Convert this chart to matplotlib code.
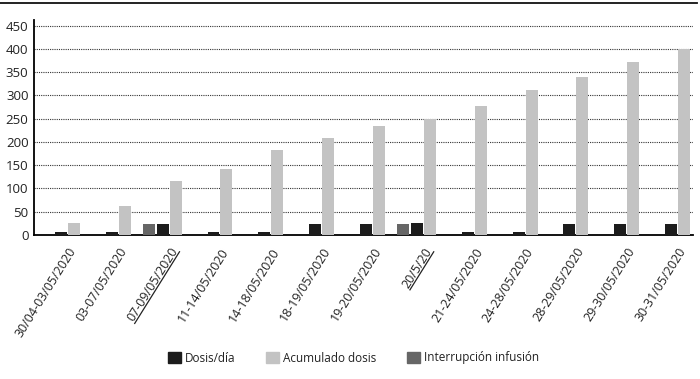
import numpy as np
import matplotlib
matplotlib.use("Agg")
import matplotlib.pyplot as plt
from matplotlib.lines import Line2D
from matplotlib.patches import Patch

plt.rcParams["font.family"] = ["Open Sans", "DejaVu Sans"]

labels = ["30/04-03/05/2020", "03-07/05/2020", "07-09/05/2020", "11-14/05/2020",
          "14-18/05/2020", "18-19/05/2020", "19-20/05/2020", "20/5/20",
          "21-24/05/2020", "24-28/05/2020", "28-29/05/2020", "29-30/05/2020",
          "30-31/05/2020"]
dosis = [7, 7, 23, 7, 7, 24, 24, 26, 6, 6, 24, 24, 24]
acumulado = [25, 62, 116, 142, 182, 208, 234, 249, 277, 312, 340, 371, 400]
interrupcion = [0, 0, 23, 0, 0, 0, 0, 24, 0, 0, 0, 0, 0]
underlined = ["07-09/05/2020", "20/5/20"]

C_DOSIS = "#1c1c1c"
C_ACUM = "#c3c3c3"
C_INT = "#666666"
TXT = "#222222"
ROT = 58

x = np.arange(len(labels))
w = 0.235

fig = plt.figure(figsize=(7, 3.79), dpi=100)
ax = fig.add_axes([34 / 700, 1 - 235 / 379, (693 - 34) / 700, (235 - 20) / 379])

ax.bar(x - 0.27, interrupcion, w, color=C_INT, zorder=3)
ax.bar(x, dosis, w, color=C_DOSIS, zorder=3)
ax.bar(x + 0.255, acumulado, w, color=C_ACUM, zorder=3)

ax.set_xlim(-0.53, 12.43)
ax.set_ylim(0, 462)
ax.set_yticks(np.arange(0, 451, 50))
ax.yaxis.grid(True, color="#333333", linestyle=(0, (1, 1)), linewidth=0.8)
ax.set_axisbelow(True)
for s in ("top", "right"):
    ax.spines[s].set_visible(False)
ax.spines["left"].set_linewidth(1.3)
ax.spines["bottom"].set_linewidth(1.3)
ax.tick_params(axis="y", length=0, pad=4, labelsize=9.5, labelcolor=TXT)
ax.tick_params(axis="x", length=0, pad=10, labelsize=9, labelcolor=TXT)

ax.set_xticks(x + 0.24)
ax.set_xticklabels(labels, rotation=ROT, ha="right", va="center",
                   rotation_mode="anchor")

# regla superior
fig.add_artist(Line2D([0, 0.995], [1 - 3 / 379] * 2, color="#111111",
                      linewidth=1.3, transform=fig.transFigure))

handles = [Patch(color=C_DOSIS), Patch(color=C_ACUM), Patch(color=C_INT)]
fig.legend(handles, ["Dosis/día", "Acumulado dosis", "Interrupción infusión"],
           loc="center", bbox_to_anchor=(0.505, 1 - 358 / 379), ncol=3,
           frameon=False, fontsize=8.5, handlelength=1.1, handleheight=1.1,
           handletextpad=0.35, columnspacing=2.6, labelcolor=TXT)

# subrayado de las etiquetas marcadas
fig.canvas.draw()
r = fig.canvas.get_renderer()
a = np.deg2rad(ROT)
c, s = np.cos(a), np.sin(a)
inv = fig.transFigure.inverted()
for lab in ax.get_xticklabels():
    if lab.get_text() not in underlined:
        continue
    tmp = fig.text(0, 0, lab.get_text(), fontsize=lab.get_fontsize(),
                   fontfamily=lab.get_fontfamily())
    bb = tmp.get_window_extent(renderer=r)
    tw, th = bb.width, bb.height
    tmp.remove()
    anchor = np.array(lab.get_transform().transform(lab.get_position()))
    d = 0.5 * th - 0.08 * th          # de centro a justo bajo la linea base
    br = anchor + np.array([d * s, -d * c])
    bl = br - tw * np.array([c, s])
    p = inv.transform(np.vstack([bl, br]))
    fig.add_artist(Line2D(p[:, 0], p[:, 1], color=TXT, linewidth=0.9,
                          transform=fig.transFigure))

fig.savefig("out.png", dpi=100)
